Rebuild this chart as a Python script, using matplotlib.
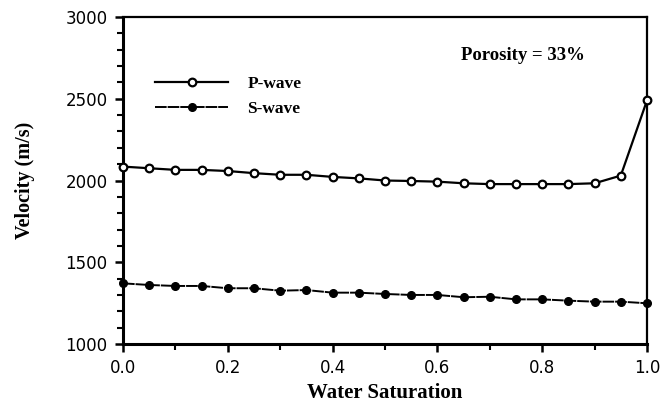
import matplotlib
matplotlib.use("Agg")
import matplotlib.pyplot as plt
from matplotlib.ticker import MultipleLocator

# water saturation steps and measured velocities (m/s)
saturation = [0.0, 0.05, 0.1, 0.15, 0.2, 0.25, 0.3, 0.35, 0.4, 0.45, 0.5,
              0.55, 0.6, 0.65, 0.7, 0.75, 0.8, 0.85, 0.9, 0.95, 1.0]
p_wave = [2085, 2075, 2065, 2065, 2058, 2045, 2035, 2035, 2022, 2013, 2000,
          1997, 1993, 1983, 1978, 1978, 1978, 1978, 1983, 2030, 2490]
s_wave = [1371, 1361, 1355, 1355, 1341, 1341, 1326, 1330, 1314, 1314, 1306,
          1300, 1300, 1286, 1289, 1273, 1273, 1265, 1259, 1259, 1249]

serif_bold = dict(family="Liberation Serif", weight="bold")

fig = plt.figure(figsize=(6.64, 4.07), dpi=100)
ax = fig.add_axes([0.1852, 0.1548, 0.7892, 0.8034])

ax.plot(saturation, p_wave, color="black", lw=1.6, marker="o", ms=5.5,
        mfc="white", mec="black", mew=1.6, label="P-wave", clip_on=False, zorder=3)
ax.plot(saturation, s_wave, color="black", lw=1.4, ls=(0, (6, 0.5)), marker="o", ms=5.5,
        mfc="black", mec="black", label="S-wave", clip_on=False, zorder=3)

ax.set_xlim(0, 1)
ax.set_ylim(1000, 3000)
ax.xaxis.set_major_locator(MultipleLocator(0.2))
ax.xaxis.set_minor_locator(MultipleLocator(0.1))
ax.yaxis.set_major_locator(MultipleLocator(500))
ax.yaxis.set_minor_locator(MultipleLocator(100))
ax.xaxis.set_major_formatter(lambda v, pos: f"{v:.1f}")

ax.tick_params(which="major", direction="out", length=6, width=1.8,
               labelsize=12, pad=5)
ax.tick_params(which="minor", direction="out", length=4, width=1.5)

for side in ["left", "bottom"]:
    ax.spines[side].set_linewidth(2.2)
for side in ["top", "right"]:
    ax.spines[side].set_linewidth(1.6)

ax.set_xlabel("Water Saturation", fontsize=15, labelpad=4, **serif_bold)
ax.set_ylabel("Velocity (m/s)", fontsize=14.5, labelpad=22, **serif_bold)

ax.text(0.645, 0.868, "Porosity = 33%", transform=ax.transAxes,
        fontsize=13.5, **serif_bold)

leg = ax.legend(loc="upper left", bbox_to_anchor=(0.032, 0.867), frameon=False,
                handlelength=4.2, handletextpad=1.1, labelspacing=0.5,
                prop=dict(family="Liberation Serif", weight="bold", size=12.5))

fig.savefig("out.png", dpi=100)
